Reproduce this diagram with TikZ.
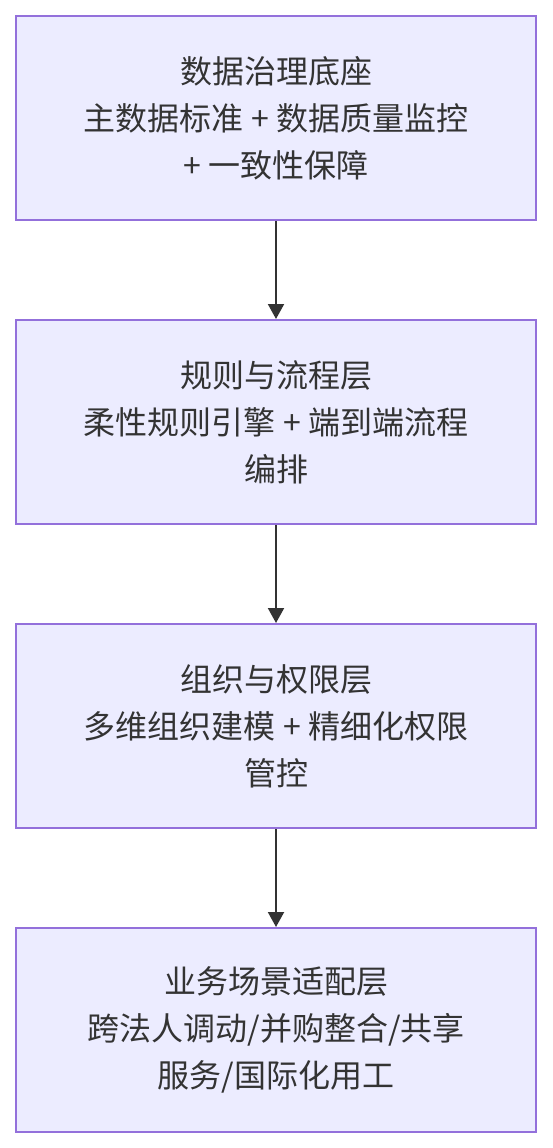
\documentclass[tikz,border=0pt]{standalone}
\usepackage{fontspec}
\setmainfont{Noto Sans CJK SC}
\usepackage{xcolor}
\usetikzlibrary{arrows.meta,positioning}
\definecolor{lf}{HTML}{ECECFF}
\definecolor{lb}{HTML}{9370DB}
\definecolor{tx}{HTML}{333333}
\tikzset{
  layer/.style={draw=lb, fill=lf, line width=2pt, minimum width=520pt, minimum height=204pt,
    align=center, text=tx, font=\fontsize{32pt}{47pt}\selectfont},
  flow/.style={draw=tx, line width=2pt, -{Triangle[length=15pt,width=16pt]}}
}

\begin{document}
\begin{tikzpicture}[x=1pt, y=-1pt, node distance=98pt]
  \useasboundingbox (0,0) rectangle (552,1148);
  \node[layer] (base) at (276,118) {数据治理底座\\主数据标准 + 数据质量监控\\+ 一致性保障};
  \node[layer, below=of base] (rule) {规则与流程层\\柔性规则引擎 + 端到端流程\\编排};
  \node[layer, below=of rule] (org) {组织与权限层\\多维组织建模 + 精细化权限\\管控};
  \node[layer, below=of org] (biz) {业务场景适配层\\跨法人调动/并购整合/共享\\服务/国际化用工};
  \draw[flow] (base) -- (rule);
  \draw[flow] (rule) -- (org);
  \draw[flow] (org) -- (biz);
\end{tikzpicture}
\end{document}
